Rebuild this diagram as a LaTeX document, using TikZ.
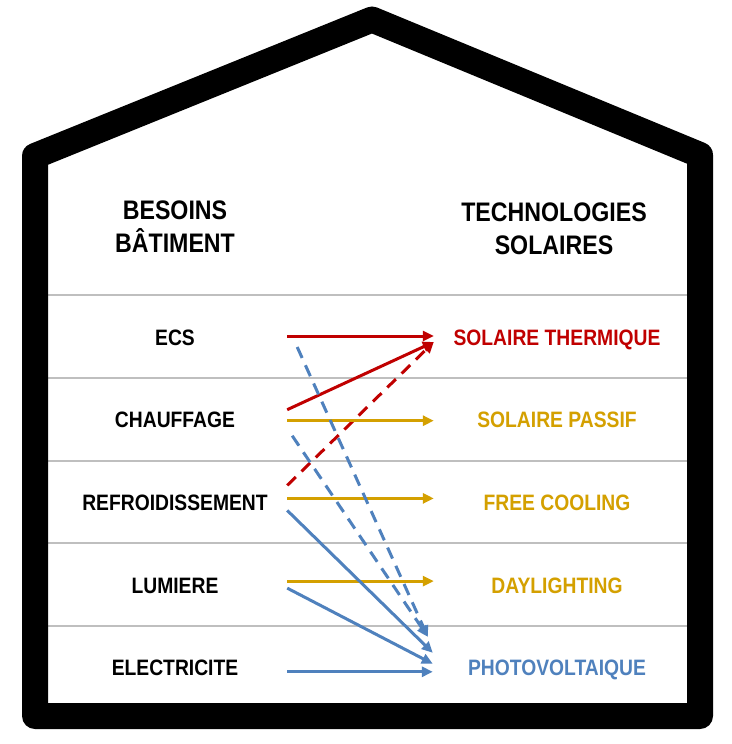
\documentclass[tikz,border=0pt]{standalone}
\usepackage{fontspec}
\setmainfont{Liberation Sans}[FakeStretch=0.865]
\usetikzlibrary{arrows.meta}

\definecolor{thermred}{RGB}{192,0,0}
\definecolor{passgold}{RGB}{212,160,0}
\definecolor{pvblue}{RGB}{79,129,189}

\tikzset{
	need/.style = {font=\bfseries\fontsize{22.3}{26}\selectfont, text height=16pt, text depth=0pt, inner sep=0pt, minimum width=224pt},
	tech/.style = {need, minimum width=246pt},
	head/.style = {font=\bfseries\fontsize{26.8}{33}\selectfont, align=center},
	link/.style = {line width=3pt, -{Triangle[length=11pt, width=10pt]}},
	rowline/.style = {black!25, line width=1.8pt}
}

\begin{document}
\begin{tikzpicture}[x=1pt, y=-1pt]
	\useasboundingbox (0, 0) rectangle (731, 744);
	\fill[white] (0, 0) rectangle (731, 744);
	\foreach \y in {295, 378, 461, 543, 626}
		\draw[rowline] (48, \y) -- (688, \y);
	\draw[line width=26pt, line join=round] (35, 716) -- (35, 156) -- (372, 19.5) -- (700, 155) -- (700, 716) -- cycle;

	\node[head] (Besoins) at (175, 226.4) {BESOINS\\BÂTIMENT};
	\node[head] (Techno) at (554, 229.2) {TECHNOLOGIES\\SOLAIRES};

	\node[need] (ecs) at (175, 337) {ECS};
	\node[need] (chauffage) at (175, 419.7) {CHAUFFAGE};
	\node[need] (refroid) at (175, 502.4) {REFROIDISSEMENT};
	\node[need] (lumiere) at (175, 585.1) {LUMIERE};
	\node[need] (elec) at (175, 667.8) {ELECTRICITE};

	\node[tech, thermred] (thermique) at (557, 337) {SOLAIRE THERMIQUE};
	\node[tech, passgold] (passif) at (557, 419.7) {SOLAIRE PASSIF};
	\node[tech, passgold] (cooling) at (557, 502.4) {FREE COOLING};
	\node[tech, passgold] (daylight) at (557, 585.1) {DAYLIGHTING};
	\node[tech, pvblue] (pv) at (557, 667.8) {PHOTOVOLTAIQUE};

	\draw[link, thermred] ([yshift=1pt]ecs.east) -- ([yshift=1pt]thermique.west);
	\draw[link, thermred] ([yshift=10pt]chauffage.east) -- ([yshift=-5pt]thermique.west);
	\draw[link, thermred, dash pattern=on 12pt off 8pt] ([yshift=17pt]refroid.east) -- ([yshift=-5pt]thermique.west);
	\draw[link, passgold] ([yshift=-1pt]chauffage.east) -- ([yshift=-1pt]passif.west);
	\draw[link, passgold] ([yshift=4pt]refroid.east) -- ([yshift=4pt]cooling.west);
	\draw[link, passgold] ([yshift=4pt]lumiere.east) -- ([yshift=4pt]daylight.west);
	\draw[link, pvblue, dash pattern=on 12pt off 8pt] ([xshift=10pt, yshift=-10pt]ecs.east) -- ([xshift=-6pt, yshift=31pt]pv.west);
	\draw[link, pvblue, dash pattern=on 12pt off 8pt] ([xshift=5pt, yshift=-16pt]chauffage.east) -- ([xshift=-6pt, yshift=31pt]pv.west);
	\draw[link, pvblue] ([yshift=-8pt]refroid.east) -- ([xshift=-1pt, yshift=15pt]pv.west);
	\draw[link, pvblue] ([yshift=-3pt]lumiere.east) -- ([xshift=-1pt, yshift=4pt]pv.west);
	\draw[link, pvblue] ([yshift=-4pt]elec.east) -- ([xshift=-1pt, yshift=-4pt]pv.west);
\end{tikzpicture}
\end{document}
